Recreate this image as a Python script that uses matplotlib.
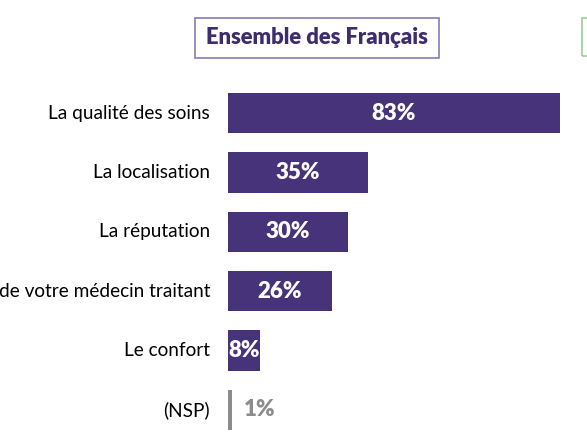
import matplotlib.pyplot as plt
from matplotlib.patches import Rectangle

categories = ["La qualité des soins", "La localisation", "La réputation",
              "de votre médecin traitant", "Le confort", "(NSP)"]
values = [83, 35, 30, 26, 8, 1]
labels = ["83%", "35%", "30%", "26%", "8%", "1%"]

PURPLE = "#46337a"
GREY = "#8c8c8c"

W, H = 587, 438
fig = plt.figure(figsize=(W / 100, H / 100), dpi=100)
fig.patch.set_facecolor("white")

# axes placed so that 1% = 4 px and bars start at x=228
ax = fig.add_axes([228 / W, 0, 1 - 228 / W, 1])
ax.set_xlim(0, (W - 228) / 4)
ax.set_ylim((H - 113) / 59.4, -113 / 59.4)
ax.axis("off")

colors = [PURPLE] * (len(values) - 1) + [GREY]
ax.barh(range(len(values)), values, height=0.68, color=colors)

for i, (v, lab) in enumerate(zip(values, labels)):
    if v >= 5:
        ax.text(v / 2, i, lab, ha="center", va="center", color="white",
                fontsize=16, fontweight="heavy", family="Lato")
    else:
        ax.text(v + 3, i, lab, ha="left", va="center", color=GREY,
                fontsize=16, fontweight="heavy", family="Lato")
    ax.text(-4.5, i, categories[i], ha="right", va="center", color="black",
            fontsize=13.7, family="Lato", clip_on=False)

fig.text(317 / W, 1 - 38 / H, "Ensemble des Français", ha="center", va="center",
         fontsize=15.8, fontweight="heavy", color="#3d2c6e", family="Lato")
fig.patches.append(Rectangle((195 / W, 1 - 58 / H), 244 / W, 40 / H,
                             transform=fig.transFigure, fill=False,
                             edgecolor="#8a7bb8", linewidth=1.2))
fig.patches.append(Rectangle((582 / W, 1 - 56 / H), 20 / W, 38 / H,
                             transform=fig.transFigure, fill=False,
                             edgecolor="#9ad09a", linewidth=1.2))

fig.savefig("out.png", dpi=100)
